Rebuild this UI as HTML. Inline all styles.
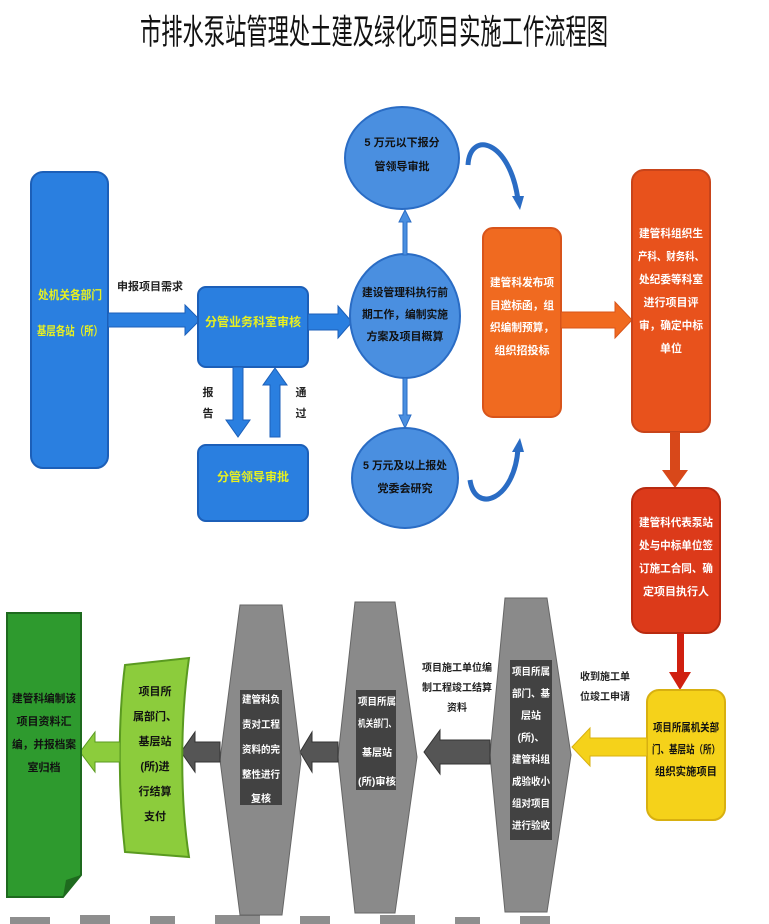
<!DOCTYPE html>
<html><head><meta charset="utf-8"><style>
html,body{margin:0;padding:0;background:#fff;}
svg{display:block;}
text{font-family:"Liberation Sans","Noto Sans CJK SC",sans-serif;font-weight:bold;}
</style></head><body>
<svg width="769" height="924" viewBox="0 0 769 924" xmlns="http://www.w3.org/2000/svg">
<g transform="translate(0,44) scale(1,1.45)">
<text x="374" y="0" font-size="24" text-anchor="middle" textLength="468" lengthAdjust="spacingAndGlyphs" fill="#111" style="font-weight:normal">市排水泵站管理处土建及绿化项目实施工作流程图</text>
</g>

<rect x="31" y="172" width="77" height="296" rx="12" fill="#2a7fe0" stroke="#1c5fb8" stroke-width="2"/>
<text x="70" y="299" font-size="12" fill="#e8f020" text-anchor="middle" textLength="64" lengthAdjust="spacingAndGlyphs">处机关各部门</text>
<text x="70" y="335" font-size="12" fill="#e8f020" text-anchor="middle" textLength="66" lengthAdjust="spacingAndGlyphs">基层各站（所）</text>
<text x="150" y="290" font-size="11" fill="#222" text-anchor="middle">申报项目需求</text>
<polygon points="108,313 185,313 185,305 200,320 185,335 185,327 108,327" fill="#2a7fe0" stroke="#1c5fb8"/>

<rect x="198" y="287" width="110" height="80" rx="8" fill="#2a7fe0" stroke="#1c5fb8" stroke-width="2"/>
<text x="253" y="326" font-size="12" fill="#e8f020" text-anchor="middle">分管业务科室审核</text>
<polygon points="233,367 243,367 243,420 250,420 238,437 226,420 233,420" fill="#2a7fe0" stroke="#1c5fb8"/>
<polygon points="270,437 280,437 280,385 287,385 275,368 263,385 270,385" fill="#2a7fe0" stroke="#1c5fb8"/>
<text x="208" y="396" font-size="11" fill="#222" text-anchor="middle">报</text>
<text x="208" y="417" font-size="11" fill="#222" text-anchor="middle">告</text>
<text x="301" y="396" font-size="11" fill="#222" text-anchor="middle">通</text>
<text x="301" y="417" font-size="11" fill="#222" text-anchor="middle">过</text>
<rect x="198" y="445" width="110" height="76" rx="8" fill="#2a7fe0" stroke="#1c5fb8" stroke-width="2"/>
<text x="253" y="481" font-size="12" fill="#e8f020" text-anchor="middle">分管领导审批</text>

<polygon points="308,314 338,314 338,306 352,322 338,338 338,330 308,330" fill="#2a7fe0" stroke="#1c5fb8"/>

<ellipse cx="405" cy="316" rx="55" ry="62" fill="#4a8fe0" stroke="#2a6cc4" stroke-width="2"/>
<g font-size="11" fill="#111" text-anchor="middle">
<text x="405" y="296" textLength="86" lengthAdjust="spacingAndGlyphs">建设管理科执行前</text>
<text x="405" y="318" textLength="86" lengthAdjust="spacingAndGlyphs">期工作，编制实施</text>
<text x="405" y="340">方案及项目概算</text>
</g>

<ellipse cx="402" cy="158" rx="57" ry="51" fill="#4a8fe0" stroke="#2a6cc4" stroke-width="2"/>
<text x="402" y="146" font-size="11" fill="#111" text-anchor="middle">5 万元以下报分</text>
<text x="402" y="170" font-size="11" fill="#111" text-anchor="middle">管领导审批</text>
<ellipse cx="405" cy="478" rx="53" ry="50" fill="#4a8fe0" stroke="#2a6cc4" stroke-width="2"/>
<text x="405" y="469" font-size="11" fill="#111" text-anchor="middle" textLength="84" lengthAdjust="spacingAndGlyphs">5 万元及以上报处</text>
<text x="405" y="492" font-size="11" fill="#111" text-anchor="middle">党委会研究</text>

<polygon points="403,255 407,255 407,222 411,222 405,210 399,222 403,222" fill="#4a8fe0" stroke="#2a6cc4"/>
<polygon points="403,378 407,378 407,415 411,415 405,428 399,415 403,415" fill="#4a8fe0" stroke="#2a6cc4"/>

<path d="M468,165 C470,130 510,140 518,200" fill="none" stroke="#2a6cc4" stroke-width="5"/>
<polygon points="512,196 524,196 520,210" fill="#2a6cc4"/>
<path d="M470,480 C475,515 515,500 518,448" fill="none" stroke="#2a6cc4" stroke-width="5"/>
<polygon points="512,452 524,452 520,438" fill="#2a6cc4"/>

<rect x="483" y="228" width="78" height="189" rx="10" fill="#f06a20" stroke="#d8541a" stroke-width="2"/>
<g font-size="11" fill="#fff" text-anchor="middle">
<text x="522" y="286" textLength="64" lengthAdjust="spacingAndGlyphs">建管科发布项</text>
<text x="522" y="309" textLength="64" lengthAdjust="spacingAndGlyphs">目邀标函，组</text>
<text x="522" y="331" textLength="64" lengthAdjust="spacingAndGlyphs">织编制预算，</text>
<text x="522" y="354">组织招投标</text>
</g>
<polygon points="561,312 615,312 615,302 632,320 615,338 615,328 561,328" fill="#f06a20" stroke="#d8541a"/>

<rect x="632" y="170" width="78" height="262" rx="12" fill="#e8521c" stroke="#c8441a" stroke-width="2"/>
<g font-size="11" fill="#fff" text-anchor="middle">
<text x="671" y="237" textLength="64" lengthAdjust="spacingAndGlyphs">建管科组织生</text>
<text x="671" y="260" textLength="66" lengthAdjust="spacingAndGlyphs">产科、财务科、</text>
<text x="671" y="283" textLength="64" lengthAdjust="spacingAndGlyphs">处纪委等科室</text>
<text x="671" y="306">进行项目评</text>
<text x="671" y="329" textLength="64" lengthAdjust="spacingAndGlyphs">审，确定中标</text>
<text x="671" y="352">单位</text>
</g>
<polygon points="670,432 680,432 680,470 688,470 675,488 662,470 670,470" fill="#d8481a"/>

<rect x="632" y="488" width="88" height="145" rx="14" fill="#dc3a1a" stroke="#b82a10" stroke-width="2"/>
<g font-size="11" fill="#fff" text-anchor="middle">
<text x="676" y="526" textLength="74" lengthAdjust="spacingAndGlyphs">建管科代表泵站</text>
<text x="676" y="549" textLength="74" lengthAdjust="spacingAndGlyphs">处与中标单位签</text>
<text x="676" y="572" textLength="74" lengthAdjust="spacingAndGlyphs">订施工合同、确</text>
<text x="676" y="595">定项目执行人</text>
</g>
<polygon points="677,633 684,633 684,672 691,672 680,690 669,672 677,672" fill="#d02010"/>

<rect x="647" y="690" width="78" height="130" rx="12" fill="#f5d21a" stroke="#d8b010" stroke-width="2"/>
<g font-size="11" fill="#111" text-anchor="middle">
<text x="686" y="731" textLength="66" lengthAdjust="spacingAndGlyphs">项目所属机关部</text>
<text x="686" y="753" textLength="68" lengthAdjust="spacingAndGlyphs">门、基层站（所）</text>
<text x="686" y="775" textLength="62" lengthAdjust="spacingAndGlyphs">组织实施项目</text>
</g>
<polygon points="647,738 590,738 590,728 572,747 590,766 590,756 647,756" fill="#f5d21a" stroke="#d8b010"/>
<text x="605" y="680" font-size="10" fill="#222" text-anchor="middle">收到施工单</text>
<text x="605" y="700" font-size="10" fill="#222" text-anchor="middle">位竣工申请</text>

<polygon points="505,598 547,598 571,755 547,912 505,912 490,755" fill="#8a8a8a" stroke="#666"/>
<rect x="510" y="660" width="42" height="180" fill="#2a2a2a" opacity="0.75"/>
<g font-size="10" fill="#fff" text-anchor="middle">
<text x="531" y="675" textLength="38" lengthAdjust="spacingAndGlyphs">项目所属</text>
<text x="531" y="697" textLength="38" lengthAdjust="spacingAndGlyphs">部门、基</text>
<text x="531" y="719">层站</text>
<text x="531" y="741">(所)、</text>
<text x="531" y="763" textLength="38" lengthAdjust="spacingAndGlyphs">建管科组</text>
<text x="531" y="785" textLength="38" lengthAdjust="spacingAndGlyphs">成验收小</text>
<text x="531" y="807" textLength="38" lengthAdjust="spacingAndGlyphs">组对项目</text>
<text x="531" y="829" textLength="38" lengthAdjust="spacingAndGlyphs">进行验收</text>
</g>
<text x="457" y="671" font-size="10" fill="#222" text-anchor="middle">项目施工单位编</text>
<text x="457" y="691" font-size="10" fill="#222" text-anchor="middle">制工程竣工结算</text>
<text x="457" y="711" font-size="10" fill="#222" text-anchor="middle">资料</text>
<polygon points="490,740 440,740 440,730 424,752 440,774 440,764 490,764" fill="#555" stroke="#333"/>

<polygon points="355,602 395,602 417,757 395,913 355,913 338,757" fill="#8a8a8a" stroke="#666"/>
<rect x="356" y="690" width="40" height="100" fill="#2a2a2a" opacity="0.75"/>
<g font-size="10" fill="#fff" text-anchor="middle">
<text x="377" y="705" textLength="38" lengthAdjust="spacingAndGlyphs">项目所属</text>
<text x="377" y="727" textLength="38" lengthAdjust="spacingAndGlyphs">机关部门、</text>
<text x="377" y="756">基层站</text>
<text x="377" y="785" textLength="38" lengthAdjust="spacingAndGlyphs">(所)审核</text>
</g>
<polygon points="338,742 312,742 312,732 300,752 312,772 312,762 338,762" fill="#555" stroke="#333"/>

<polygon points="240,605 282,605 301,760 282,915 240,915 220,760" fill="#8a8a8a" stroke="#666"/>
<rect x="240" y="690" width="42" height="115" fill="#2a2a2a" opacity="0.75"/>
<g font-size="10" fill="#fff" text-anchor="middle">
<text x="261" y="703" textLength="38" lengthAdjust="spacingAndGlyphs">建管科负</text>
<text x="261" y="728" textLength="38" lengthAdjust="spacingAndGlyphs">责对工程</text>
<text x="261" y="753" textLength="38" lengthAdjust="spacingAndGlyphs">资料的完</text>
<text x="261" y="778" textLength="38" lengthAdjust="spacingAndGlyphs">整性进行</text>
<text x="261" y="802">复核</text>
</g>
<polygon points="220,742 195,742 195,732 181,752 195,772 195,762 220,762" fill="#555" stroke="#333"/>

<path d="M125,665 L189,658 C180,720 180,800 189,857 L125,852 C118,790 118,720 125,665 Z" fill="#8ccc3c" stroke="#5a9a20" stroke-width="2"/>
<g font-size="11" fill="#111" text-anchor="middle">
<text x="155" y="695">项目所</text>
<text x="155" y="720">属部门、</text>
<text x="155" y="745">基层站</text>
<text x="155" y="770">(所)进</text>
<text x="155" y="795">行结算</text>
<text x="155" y="820">支付</text>
</g>
<polygon points="120,742 95,742 95,732 80,752 95,772 95,762 120,762" fill="#8ccc3c" stroke="#5a9a20"/>

<path d="M7,613 L81,613 L81,875 L63,897 L7,897 Z" fill="#2e9a2e" stroke="#1e6a1e" stroke-width="2"/>
<polygon points="63,897 81,875 66,880" fill="#1e6a1e"/>
<g font-size="11" fill="#111" text-anchor="middle">
<text x="44" y="702" textLength="64" lengthAdjust="spacingAndGlyphs">建管科编制该</text>
<text x="44" y="725">项目资料汇</text>
<text x="44" y="748" textLength="64" lengthAdjust="spacingAndGlyphs">编，并报档案</text>
<text x="44" y="771">室归档</text>
</g>

<g fill="#333" opacity="0.55">
<rect x="10" y="917" width="40" height="7"/><rect x="80" y="915" width="30" height="9"/>
<rect x="150" y="916" width="25" height="8"/><rect x="215" y="915" width="45" height="9"/>
<rect x="300" y="916" width="30" height="8"/><rect x="380" y="915" width="35" height="9"/>
<rect x="455" y="917" width="25" height="7"/><rect x="520" y="916" width="30" height="8"/>
</g>
</svg>
</body></html>
